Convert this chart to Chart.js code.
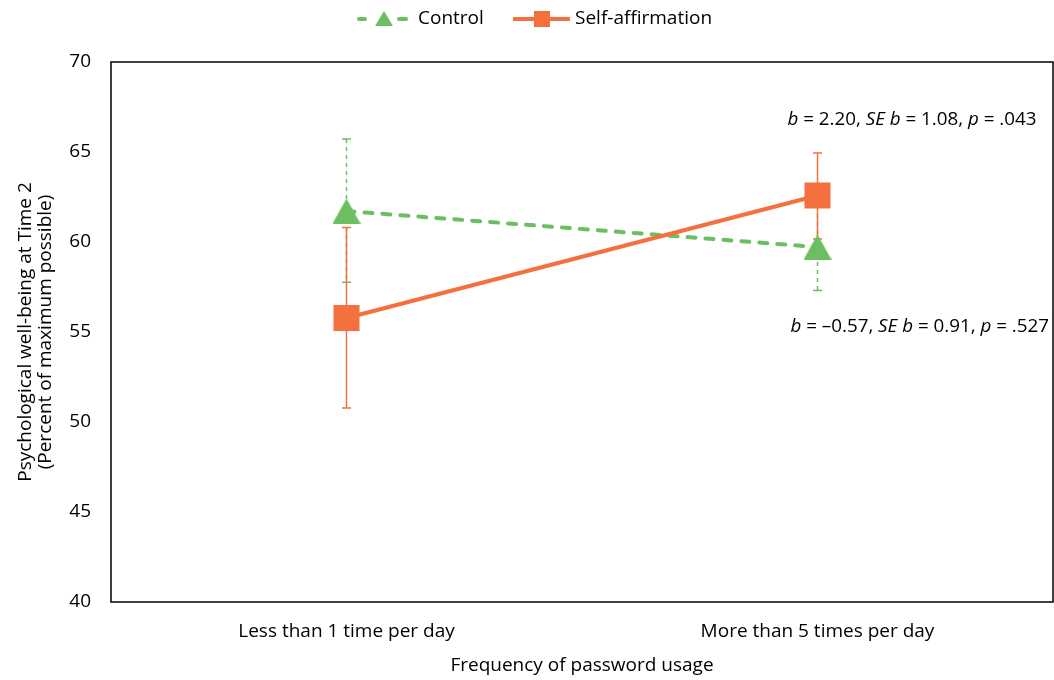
<!DOCTYPE html>
<html><head><meta charset="utf-8">
<script src="https://cdn.jsdelivr.net/npm/chart.js@4.4.0/dist/chart.umd.min.js"></script>
<style>html,body{margin:0;padding:0;background:#fff}#wrap{width:1054px;height:680px}</style>
</head><body><div id="wrap"><canvas id="c" width="1054" height="680"></canvas></div>
<script>
const categories = ['Less than 1 time per day', 'More than 5 times per day'];
const seriesNames = ['Control', 'Self-affirmation'];
const controlValues = [61.72, 59.72];
const controlUpper = [65.72, 62.0];
const controlLower = [57.76, 57.3];
const selfValues = [55.78, 62.58];
const selfUpper = [60.81, 64.95];
const selfLower = [50.78, 60.17];
const yTicks = [40, 45, 50, 55, 60, 65, 70];
const yTitle = ['Psychological well-being at Time 2', '(Percent of maximum possible)'];
const xTitle = 'Frequency of password usage';
const noteSelf = [['b', true], [' = 2.20, ', false], ['SE b', true], [' = 1.08, ', false], ['p', true], [' = .043', false]];
const noteControl = [['b', true], [' = \u20130.57, ', false], ['SE b', true], [' = 0.91, ', false], ['p', true], [' = .527', false]];

const GREEN = '#6BBE62';
const ORANGE = '#F4703F';
const FONT = '"Open Sans"';
const FS = 19;
const NFS = 18.8;

function triCanvas(w, h, color) {
  const c = document.createElement('canvas');
  c.width = w; c.height = h;
  const g = c.getContext('2d');
  g.fillStyle = color;
  g.beginPath(); g.moveTo(w / 2, 0); g.lineTo(w, h); g.lineTo(0, h); g.closePath(); g.fill();
  return c;
}
const triImg = triCanvas(28, 25, GREEN);

const errorBars = {
  id: 'errorBars',
  beforeDatasetsDraw(chart) {
    const ctx = chart.ctx, xs = chart.scales.x, ys = chart.scales.y;
    const sets = [
      {up: controlUpper, lo: controlLower, color: GREEN, dash: [4, 4]},
      {up: selfUpper, lo: selfLower, color: ORANGE, dash: []}
    ];
    ctx.save();
    ctx.lineWidth = 1.5;
    sets.forEach(s => {
      ctx.strokeStyle = s.color;
      for (let i = 0; i < categories.length; i++) {
        const x = xs.getPixelForValue(i);
        const yu = ys.getPixelForValue(s.up[i]);
        const yl = ys.getPixelForValue(s.lo[i]);
        ctx.setLineDash(s.dash);
        ctx.beginPath(); ctx.moveTo(x, yu); ctx.lineTo(x, yl); ctx.stroke();
        ctx.setLineDash([]);
        ctx.beginPath();
        ctx.moveTo(x - 4.5, yu); ctx.lineTo(x + 4.5, yu);
        ctx.moveTo(x - 4.5, yl); ctx.lineTo(x + 4.5, yl);
        ctx.stroke();
      }
    });
    ctx.restore();
  }
};

function drawRich(ctx, parts, x, y) {
  let cx = x;
  parts.forEach(([t, it]) => {
    ctx.font = (it ? 'italic ' : '') + NFS + 'px ' + FONT;
    ctx.fillText(t, cx, y);
    cx += ctx.measureText(t).width;
  });
}

const decor = {
  id: 'decor',
  beforeDatasetsDraw(chart) {
    const {left, top, right, bottom} = chart.chartArea;
    const ctx = chart.ctx;
    ctx.save();
    ctx.strokeStyle = '#000';
    ctx.lineWidth = 1.5;
    ctx.strokeRect(left, top, right - left, bottom - top);
    ctx.restore();
  },
  afterDraw(chart) {
    const ctx = chart.ctx;
    const xs = chart.scales.x;
    ctx.save();
    ctx.fillStyle = '#000';
    ctx.textBaseline = 'middle';
    ctx.textAlign = 'left';
    const nx = xs.getPixelForValue(1) - 30;
    drawRich(ctx, noteSelf, nx, 120);
    drawRich(ctx, noteControl, nx + 3, 327);

    // legend
    const ly = 19;
    ctx.lineWidth = 4;
    ctx.strokeStyle = GREEN;
    ctx.setLineDash([]);
    ctx.lineCap = 'round';
    ctx.beginPath(); ctx.moveTo(359, ly); ctx.lineTo(365, ly); ctx.moveTo(399, ly); ctx.lineTo(406, ly); ctx.stroke();
    ctx.fillStyle = GREEN;
    ctx.beginPath(); ctx.moveTo(384, ly - 8); ctx.lineTo(393, ly + 7); ctx.lineTo(375, ly + 7); ctx.closePath(); ctx.fill();
    ctx.fillStyle = '#000';
    ctx.font = FS + 'px ' + FONT;
    ctx.fillText(seriesNames[0], 418, ly);

    ctx.strokeStyle = ORANGE;
    ctx.lineCap = 'butt';
    ctx.beginPath(); ctx.moveTo(513, ly); ctx.lineTo(570, ly); ctx.stroke();
    ctx.fillStyle = ORANGE;
    ctx.fillRect(534, ly - 8, 16, 16);
    ctx.fillStyle = '#000';
    ctx.fillText(seriesNames[1], 575, ly);
    ctx.restore();
  }
};

new Chart(document.getElementById('c'), {
  type: 'line',
  data: {
    labels: categories,
    datasets: [
      {
        label: seriesNames[0], data: controlValues, order: 2,
        borderColor: GREEN, backgroundColor: GREEN, borderWidth: 4,
        borderDash: [8, 10], borderCapStyle: 'round',
        pointStyle: triImg, pointRadius: 14, pointBorderWidth: 0, tension: 0
      },
      {
        label: seriesNames[1], data: selfValues, order: 1,
        borderColor: ORANGE, backgroundColor: ORANGE, borderWidth: 4,
        pointStyle: 'rect', pointRadius: 18.4, pointBorderWidth: 0, tension: 0
      }
    ]
  },
  options: {
    responsive: false,
    animation: false,
    devicePixelRatio: 1,
    layout: {autoPadding: false, padding: {top: 62, right: 1, left: 0, bottom: 0}},
    plugins: {legend: {display: false}, tooltip: {enabled: false}},
    scales: {
      x: {
        type: 'category',
        offset: true,
        grid: {display: false, drawTicks: false},
        border: {display: false},
        ticks: {color: '#000', font: {family: FONT, size: FS}, padding: 18, maxRotation: 0},
        title: {display: true, text: xTitle, color: '#000', font: {family: FONT, size: FS}, padding: {top: 0, bottom: 3}},
        afterFit(s) { s.height = 78; s.paddingLeft = 0; s.paddingRight = 0; }
      },
      y: {
        min: 40, max: 70,
        grid: {display: false, drawTicks: false},
        border: {display: false},
        afterBuildTicks(s) { s.ticks = yTicks.map(v => ({value: v})); },
        ticks: {color: '#000', font: {family: FONT, size: FS}, padding: 20},
        title: {display: true, text: yTitle, color: '#000', font: {family: FONT, size: FS, lineHeight: 1.05}, padding: {top: 16, bottom: 0}},
        afterFit(s) { s.width = 111; s.paddingTop = 0; s.paddingBottom = 0; }
      }
    }
  },
  plugins: [errorBars, decor]
});
</script>
</body></html>
